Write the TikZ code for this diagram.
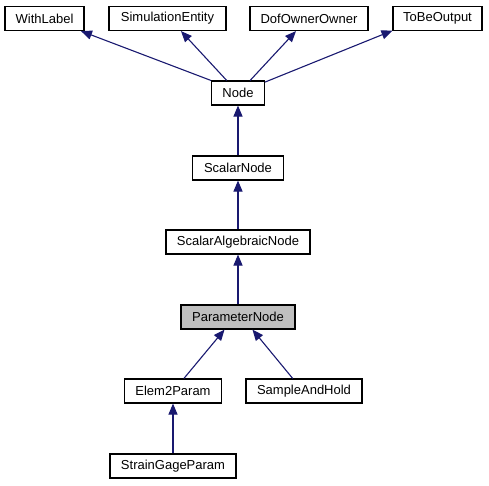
\documentclass[tikz,border=0pt]{standalone}
\usepackage{fontspec}
\setmainfont{Liberation Sans}
\usetikzlibrary{arrows.meta}
\definecolor{edgeblue}{HTML}{191970}
\begin{document}
\begin{tikzpicture}[x=1pt, y=-1pt,
		cls/.style={draw, line width=1.1pt, minimum height=24pt, inner sep=0pt, font=\fontsize{13}{15}\selectfont},
		inh/.style={edgeblue, line width=1.1pt, -{Triangle[length=11pt,width=9pt]}}]
		\useasboundingbox (0,0) rectangle (489,485);
		%oben
		\node[cls, minimum width=79pt] (withlabel) at (44.5,18.5) {WithLabel};
		\node[cls, minimum width=117pt] (simentity) at (167.5,18.5) {SimulationEntity};
		\node[cls, minimum width=118pt] (dofowner) at (309,18.5) {DofOwnerOwner};
		\node[cls, minimum width=89pt] (tobeout) at (437.5,18.5) {ToBeOutput};
		%mitte
		\node[cls, minimum width=53pt] (node) at (238,93) {Node};
		\node[cls, minimum width=91pt] (scalarnode) at (238,168) {ScalarNode};
		\node[cls, minimum width=144pt] (algnode) at (238,242) {ScalarAlgebraicNode};
		\node[cls, minimum width=114pt, fill=black!25] (paramnode) at (238,317) {ParameterNode};
		%unten
		\node[cls, minimum width=97pt] (elem2) at (173,391) {Elem2Param};
		\node[cls, minimum width=116pt] (samplehold) at (304,391) {SampleAndHold};
		\node[cls, minimum width=126pt] (straingage) at (173,466) {StrainGageParam};
		%kanten
		\draw[inh] (node.north west) -- (withlabel.-19);
		\draw[inh] (node.132) -- (simentity.-43);
		\draw[inh] (node.46) -- (dofowner.-136);
		\draw[inh] (node.22) -- (tobeout.-165);
		\draw[inh] (scalarnode) -- (node);
		\draw[inh] (algnode) -- (scalarnode);
		\draw[inh] (paramnode) -- (algnode);
		\draw[inh] (elem2.49) -- (paramnode.-137);
		\draw[inh] (samplehold.132) -- (paramnode.-41);
		\draw[inh] (straingage) -- (elem2);
	\end{tikzpicture}
\end{document}
